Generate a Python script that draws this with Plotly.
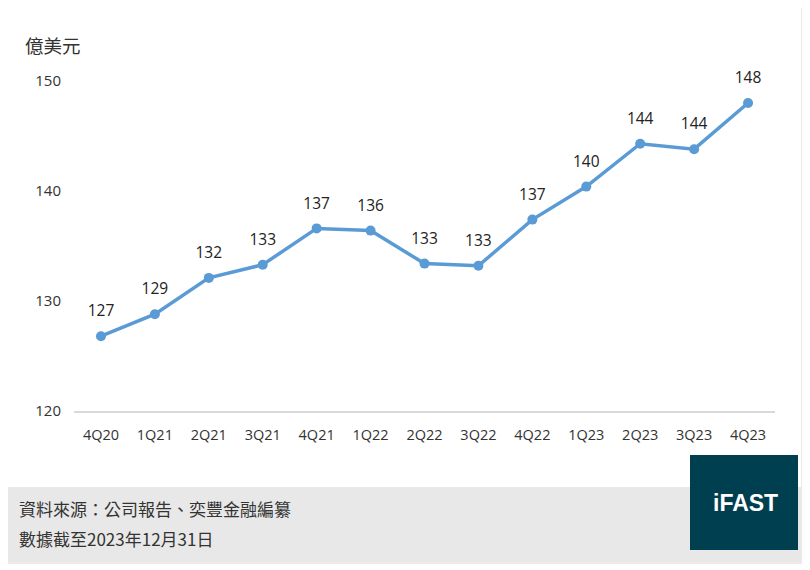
import plotly.graph_objects as go

quarters = ["4Q20", "1Q21", "2Q21", "3Q21", "4Q21", "1Q22", "2Q22", "3Q22",
            "4Q22", "1Q23", "2Q23", "3Q23", "4Q23"]
values = [126.8, 128.8, 132.1, 133.3, 136.6, 136.4, 133.4, 133.2,
          137.4, 140.4, 144.3, 143.8, 148.0]
y_ticks = [120, 130, 140, 150]
unit_label = "億美元"
source_line = "資料來源：公司報告、奕豐金融編纂"
date_line = "數據截至2023年12月31日"
logo_text = "iFAST"

OFF = 8  # page body margin
W, H = 810, 570
# target pixel positions in screenshot
PL, PR, PT, PB = 74, 775, 81, 411
L, T = PL - OFF, PT - OFF
R = W - (PR - OFF)
B = H - (PB - OFF)
PW, PH = W - L - R, H - T - B

def px(x):
    return (x - OFF - L) / PW

def py(y):
    return (H - B - (y - OFF)) / PH

CJK = "Noto Sans CJK TC"
NUM = "Open Sans"

fig = go.Figure()
fig.add_trace(go.Scatter(
    x=quarters, y=values, mode="lines+markers",
    line=dict(color="#5b9bd5", width=3.5),
    marker=dict(color="#5b9bd5", size=10),
    hoverinfo="skip",
))
fig.add_trace(go.Scatter(
    x=quarters, y=values, mode="markers+text",
    marker=dict(size=24, opacity=0),
    text=[f"{v:.0f}" for v in values],
    textposition="top center",
    textfont=dict(family=NUM, size=15.5, color="#222222"),
    cliponaxis=False,
    hoverinfo="skip",
))

shapes = [
    dict(type="rect", xref="paper", yref="paper",
         x0=px(3), x1=px(802), y0=py(563), y1=py(5),
         line=dict(color="#e6e6e6", width=1.5), fillcolor="rgba(0,0,0,0)", layer="below"),
    dict(type="rect", xref="paper", yref="paper",
         x0=px(4), x1=px(801), y0=py(562), y1=py(487),
         line=dict(width=0), fillcolor="#e8e8e8", layer="below"),
    dict(type="rect", xref="paper", yref="paper",
         x0=px(690), x1=px(798), y0=py(550), y1=py(455),
         line=dict(width=0), fillcolor="#003f50", layer="above"),
]

annotations = [
    dict(text=unit_label, xref="paper", yref="paper", x=px(23), y=py(45),
         xanchor="left", yanchor="middle", showarrow=False,
         font=dict(family=CJK, size=18.5, color="#333333")),
    dict(text=source_line, xref="paper", yref="paper", x=px(17), y=py(508),
         xanchor="left", yanchor="middle", showarrow=False,
         font=dict(family=CJK, size=17, color="#333333")),
    dict(text=date_line, xref="paper", yref="paper", x=px(17), y=py(538),
         xanchor="left", yanchor="middle", showarrow=False,
         font=dict(family=CJK, size=17, color="#333333")),
    dict(text=f"<b>{logo_text}</b>", xref="paper", yref="paper", x=px(745), y=py(503),
         xanchor="center", yanchor="middle", showarrow=False,
         font=dict(family="Liberation Sans", size=23, color="#ffffff")),
]

fig.update_layout(
    width=W, height=H,
    margin=dict(l=L, r=R, t=T, b=B),
    paper_bgcolor="#ffffff", plot_bgcolor="#ffffff",
    showlegend=False,
    shapes=shapes, annotations=annotations,
    xaxis=dict(showgrid=False, showline=True, linecolor="#d9d9d9", linewidth=1.5,
               ticks="", ticklabelstandoff=10,
               tickfont=dict(family=NUM, size=14.5, color="#333333"),
               range=[-0.5, len(quarters) - 0.5], fixedrange=True),
    yaxis=dict(range=[120, 150], tickvals=y_ticks, showgrid=False, zeroline=False,
               showline=False, ticks="", ticklabelstandoff=12,
               tickfont=dict(family=NUM, size=15, color="#333333"), fixedrange=True),
)

fig.write_html("out.html", config=dict(displayModeBar=False))
